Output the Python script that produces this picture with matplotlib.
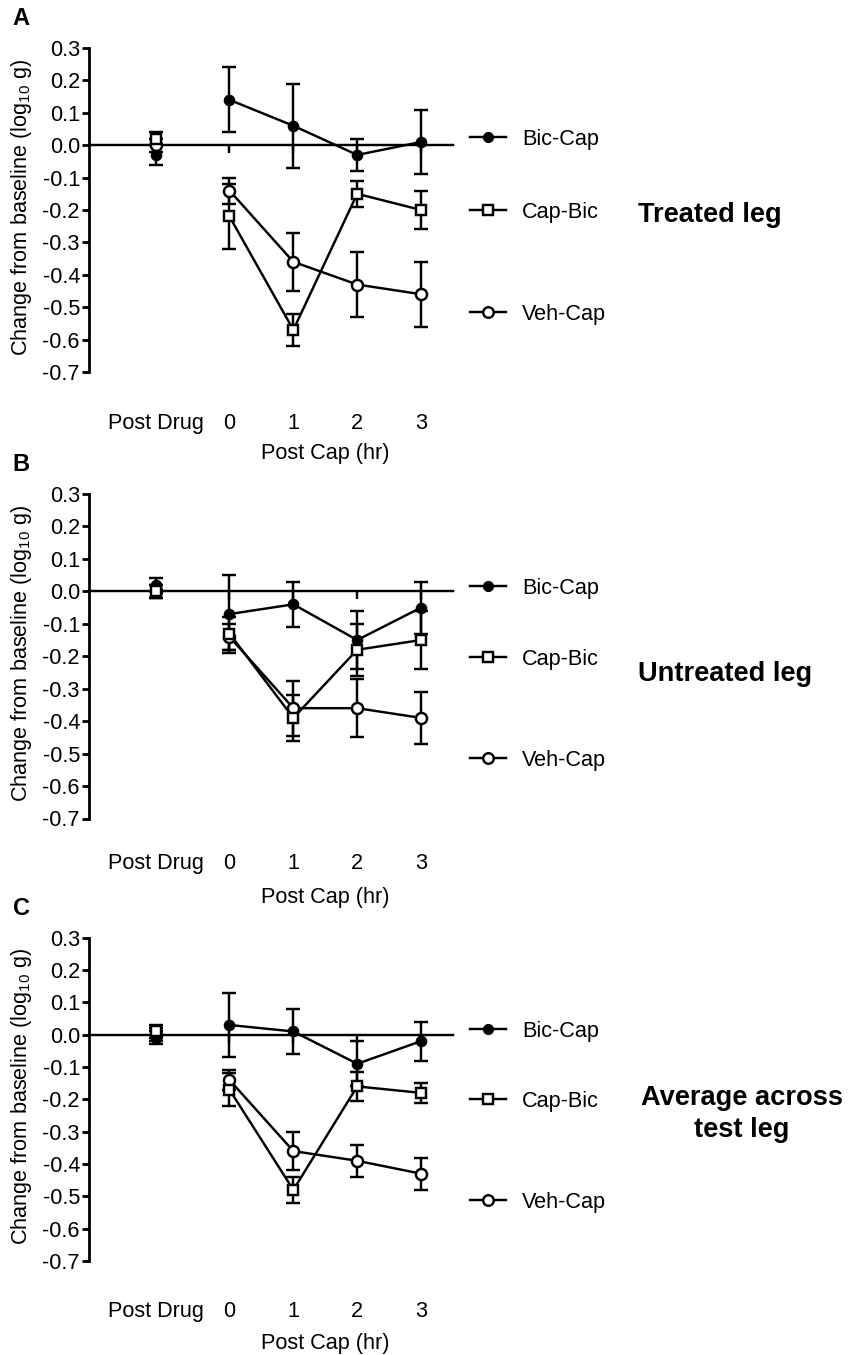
import matplotlib
matplotlib.use("Agg")
import matplotlib.pyplot as plt
from matplotlib.lines import Line2D
from matplotlib.transforms import blended_transform_factory

plt.rcParams["font.family"] = ["Liberation Sans", "DejaVu Sans"]
plt.rcParams["mathtext.default"] = "regular"
plt.rcParams["axes.unicode_minus"] = False

# ---- data -------------------------------------------------------------
x_labels = ["Post Drug", "0", "1", "2", "3"]
x_pos = [-1.15, 0, 1, 2, 3]
series_names = ["Bic-Cap", "Cap-Bic", "Veh-Cap"]

# Panel A: treated leg
bic_a = [-0.03, 0.14, 0.06, -0.03, 0.01]
bic_a_se = [0.03, 0.10, 0.13, 0.05, 0.10]
cap_a = [0.02, -0.22, -0.57, -0.15, -0.20]
cap_a_se = [0.02, 0.10, 0.05, 0.04, 0.06]
veh_a = [0.00, -0.14, -0.36, -0.43, -0.46]
veh_a_se = [0.02, 0.04, 0.09, 0.10, 0.10]

# Panel B: untreated leg
bic_b = [0.02, -0.07, -0.04, -0.15, -0.05]
bic_b_se = [0.02, 0.12, 0.07, 0.09, 0.08]
cap_b = [0.00, -0.13, -0.39, -0.18, -0.15]
cap_b_se = [0.02, 0.05, 0.07, 0.08, 0.09]
veh_b = [0.00, -0.14, -0.36, -0.36, -0.39]
veh_b_se = [0.02, 0.04, 0.085, 0.09, 0.08]

# Panel C: average across test leg
bic_c = [-0.01, 0.03, 0.01, -0.09, -0.02]
bic_c_se = [0.02, 0.10, 0.07, 0.07, 0.06]
cap_c = [0.01, -0.17, -0.48, -0.16, -0.18]
cap_c_se = [0.02, 0.05, 0.04, 0.045, 0.03]
veh_c = [0.00, -0.14, -0.36, -0.39, -0.43]
veh_c_se = [0.02, 0.03, 0.06, 0.05, 0.05]

y_ticks = [0.3, 0.2, 0.1, 0.0, -0.1, -0.2, -0.3, -0.4, -0.5, -0.6, -0.7]

# ---- figure helpers ---------------------------------------------------
W, H = 851, 1355
fig = plt.figure(figsize=(W / 100, H / 100), dpi=100)


def fx(px):
    return px / W


def fy(py):
    return 1 - py / H


FS = 15.6          # regular text size (pt)
FS_BOLD = 19.6     # condition title size (pt)
LW = 1.75


def baseline_for(center_px, size_pt):
    # place text so that its capital letters are centred on center_px
    return center_px + 0.358 * size_pt * 100 / 72


# marker style and stacking order per series (squares drawn on top)
styles = {
    "Bic-Cap": dict(marker="o", ms=6.6, mfc="black", z=5),
    "Cap-Bic": dict(marker="s", ms=7.0, mfc="white", z=6),
    "Veh-Cap": dict(marker="o", ms=8.0, mfc="white", z=4),
}

panels = [
    dict(letter="A", top=48, bottom=372, letter_y=16.5,
         tick_row=421.5, xlab_row=451.7,
         data={"Bic-Cap": (bic_a, bic_a_se), "Cap-Bic": (cap_a, cap_a_se),
               "Veh-Cap": (veh_a, veh_a_se)},
         legend_rows=[137, 210, 312],
         title=["Treated leg"], title_rows=[212], title_x=638, title_ha="left"),
    dict(letter="B", top=494, bottom=818.5, letter_y=463,
         tick_row=861.7, xlab_row=895,
         data={"Bic-Cap": (bic_b, bic_b_se), "Cap-Bic": (cap_b, cap_b_se),
               "Veh-Cap": (veh_b, veh_b_se)},
         legend_rows=[586, 657, 758],
         title=["Untreated leg"], title_rows=[671], title_x=638, title_ha="left"),
    dict(letter="C", top=937.7, bottom=1261, letter_y=907,
         tick_row=1309.3, xlab_row=1341.7,
         data={"Bic-Cap": (bic_c, bic_c_se), "Cap-Bic": (cap_c, cap_c_se),
               "Veh-Cap": (veh_c, veh_c_se)},
         legend_rows=[1029, 1099, 1200],
         title=["Average across", "test leg"], title_rows=[1095, 1127],
         title_x=742, title_ha="center"),
]

AX_LEFT, AX_W = 89, 364
XLIM = (-2.2, 3.5)

for p in panels:
    ax = fig.add_axes([fx(AX_LEFT), fy(p["bottom"]), AX_W / W,
                       (p["bottom"] - p["top"]) / H])
    ax.set_xlim(*XLIM)
    ax.set_ylim(-0.7, 0.3)

    for name in series_names:
        vals, se = p["data"][name]
        st = styles[name]
        ax.errorbar(x_pos, vals, yerr=se, fmt="none", ecolor="black",
                    elinewidth=LW, capsize=4.8, capthick=LW, zorder=2,
                    clip_on=False)
        ax.plot(x_pos[1:], vals[1:], "-", color="black", lw=LW, zorder=3)
        ax.plot(x_pos, vals, ls="none", marker=st["marker"], ms=st["ms"],
                mfc=st["mfc"], mec="black", mew=LW, zorder=st["z"],
                clip_on=False)

    for side in ("top", "right"):
        ax.spines[side].set_visible(False)
    ax.spines["left"].set_linewidth(2.0)
    ax.spines["bottom"].set_position(("data", 0))
    ax.spines["bottom"].set_linewidth(LW)
    ax.spines["bottom"].set_zorder(1)

    ax.set_yticks(y_ticks)
    ax.set_yticklabels([f"{v:.1f}" for v in y_ticks], fontsize=FS)
    ax.tick_params(axis="y", length=5, width=2.0, pad=1.5)
    ax.set_xticks(x_pos)
    ax.set_xticklabels([])
    ax.tick_params(axis="x", length=5.5, width=LW, direction="out")

    # category labels under the panel
    tr = blended_transform_factory(ax.transData, fig.transFigure)
    for xv, lab in zip(x_pos, x_labels):
        ax.text(xv, fy(baseline_for(p["tick_row"], FS)), lab, transform=tr,
                ha="center", va="baseline", fontsize=FS)
    ax.text(1.5, fy(baseline_for(p["xlab_row"], FS)), "Post Cap (hr)",
            transform=tr, ha="center", va="baseline", fontsize=FS)

    # y-axis title
    yc = (p["top"] + p["bottom"]) / 2 - 3
    fig.text(fx(22), fy(yc), r"Change from baseline (log$_{10}$ g)",
             rotation=90, ha="center", va="center", fontsize=FS)

    # panel letter
    fig.text(fx(21), fy(baseline_for(p["letter_y"], 17)), p["letter"],
             ha="center", va="baseline", fontsize=17, fontweight="bold")

    # legend
    for name, row in zip(series_names, p["legend_rows"]):
        st = styles[name]
        fig.add_artist(Line2D([fx(470), fx(506)], [fy(row), fy(row)],
                              color="black", lw=LW))
        fig.add_artist(Line2D([fx(488)], [fy(row)], ls="none",
                              marker=st["marker"], ms=st["ms"] * 0.95,
                              mfc=st["mfc"], mec="black", mew=LW))
        fig.text(fx(522), fy(baseline_for(row, FS)), name, ha="left",
                 va="baseline", fontsize=FS)

    for line, row in zip(p["title"], p["title_rows"]):
        fig.text(fx(p["title_x"]), fy(baseline_for(row, FS_BOLD)), line,
                 ha=p["title_ha"], va="baseline", fontsize=FS_BOLD,
                 fontweight="bold")

fig.savefig("out.png", dpi=100)
